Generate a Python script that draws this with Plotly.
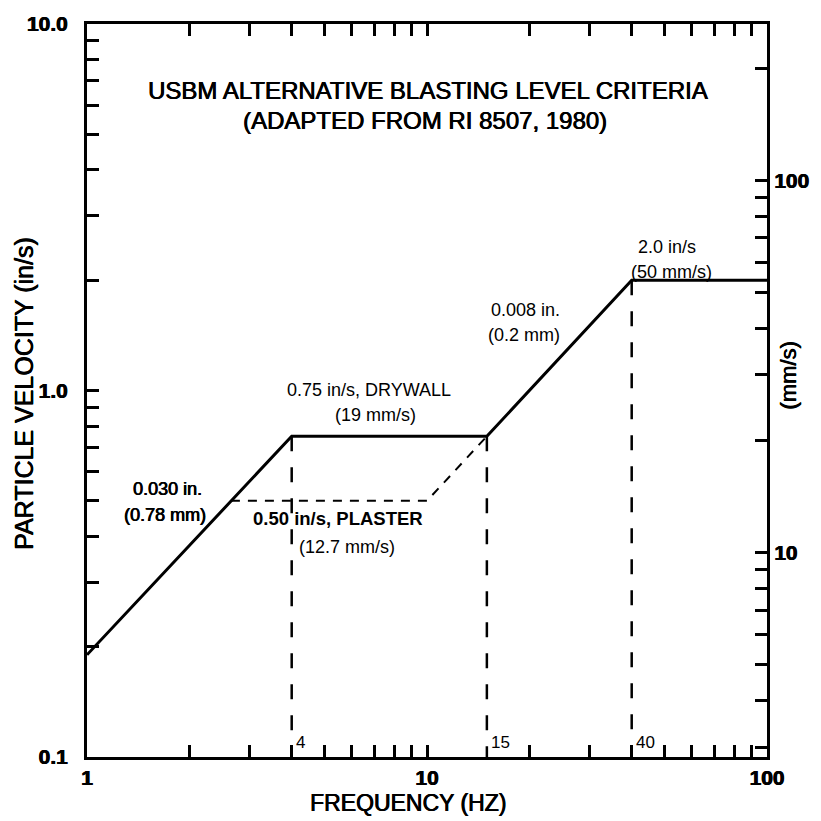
import numpy as np
import plotly.graph_objects as go

# USBM alternative blasting criteria: frequency (Hz) vs. peak particle velocity (in/s)
limit_freq = [1, 4, 15, 40, 100]
limit_vel = [0.19, 0.75, 0.75, 2.0, 2.0]

# Plaster criterion: 0.50 in/s plateau rejoining the 0.008 in. displacement line
plaster_freq = [2.65, 10, 15]
plaster_vel = [0.50, 0.50, 0.75]

# Break-point frequencies with vertical guide lines down to the axis floor
knee_freq = [4, 15, 40]
knee_vel = [0.75, 0.75, 2.0]
knee_text = ["4", "15", "40"]
floor_vel = 0.1

# Tick positions and labels (log decades with unlabeled minor ticks)
x_ticks = [1, 2, 3, 4, 5, 6, 7, 8, 9, 10, 20, 30, 40, 50, 60, 70, 80, 90, 100]
x_labels = ["1"] + [""] * 8 + ["10"] + [""] * 8 + ["100"]
y_ticks = [0.1, 0.2, 0.3, 0.4, 0.5, 0.6, 0.7, 0.8, 0.9,
           1, 2, 3, 4, 5, 6, 7, 8, 9, 10]
y_labels = ["0.1"] + [""] * 8 + ["1.0"] + [""] * 8 + ["10.0"]
mm_ticks = [3, 4, 5, 6, 7, 8, 9, 10, 20, 30, 40, 50, 60, 70, 80, 90, 100, 200]
mm_labels = [""] * 7 + ["10"] + [""] * 8 + ["100", ""]
mm_range = [2.82, 263]

FONT = "Liberation Sans, Arial, Helvetica, sans-serif"
INK = "black"
HEAVY = "0.5px 0 0 #000, -0.3px 0 0 #000"


def font(size, bold=False, heavy=True):
    f = dict(family=FONT, size=size, color=INK,
             weight="bold" if bold else "normal")
    if heavy:
        f["shadow"] = HEAVY
    return f


fig = go.Figure()

# vertical dashed guides at the break frequencies
vx, vy = [], []
for f, v in zip(knee_freq, knee_vel):
    vx += [f, f, None]
    vy += [v, floor_vel, None]
fig.add_trace(go.Scatter(x=vx, y=vy, mode="lines",
                         line=dict(color=INK, width=2.5, dash="15px,16px"),
                         hoverinfo="skip"))

# plaster criterion (short dashes)
fig.add_trace(go.Scatter(x=plaster_freq, y=plaster_vel, mode="lines",
                         line=dict(color=INK, width=2, dash="9px,8px"),
                         hoverinfo="skip"))

# main limit curve
fig.add_trace(go.Scatter(x=limit_freq, y=limit_vel, mode="lines",
                         line=dict(color=INK, width=3),
                         hoverinfo="skip"))

# carrier for the mm/s scale on the right
fig.add_trace(go.Scatter(x=[1], y=[10], yaxis="y2", mode="lines",
                         opacity=0, hoverinfo="skip"))

annotations = []


def label(text, f, v, size=18, bold=False, heavy=False, **kw):
    annotations.append(dict(text=text, x=np.log10(f), y=np.log10(v),
                            xref="x", yref="y", showarrow=False,
                            font=font(size, bold, heavy), **kw))


def paper_text(text, x, y, size, angle=0):
    annotations.append(dict(text=text, x=x, y=y, xref="paper", yref="paper",
                            xanchor="center", yanchor="middle",
                            textangle=angle, showarrow=False,
                            font=font(size)))


label("0.75 in/s, DRYWALL", 6.77, 1.006)
label("(19 mm/s)", 7.05, 0.855)
label("0.030 in.", 1.72, 0.539, heavy=True)
label("(0.78 mm)", 1.70, 0.458, heavy=True)
label("0.50 in/s, PLASTER", 5.46, 0.447, size=18.5, bold=True)
label("(12.7 mm/s)", 5.80, 0.375)
label("0.008 in.", 19.5, 1.658)
label("(0.2 mm)", 19.3, 1.418)
label("2.0 in/s", 50.7, 2.47)
label("(50 mm/s)", 52.4, 2.11)

for f, t in zip(knee_freq, knee_text):
    label(t, f, floor_vel, size=17, xanchor="left", yanchor="bottom",
          xshift=2, yshift=3)

# title block
paper_text("USBM ALTERNATIVE BLASTING LEVEL CRITERIA", 0.501, 0.909, 24)
paper_text("(ADAPTED FROM RI 8507, 1980)", 0.497, 0.869, 24)

# axis titles
paper_text("PARTICLE VELOCITY (in/s)", -0.092, 0.496, 25, angle=-90)
paper_text("FREQUENCY (HZ)", 0.472, -0.0625, 23)
paper_text("(mm/s)", 1.032, 0.52, 22, angle=-90)

axis_common = dict(type="log", showgrid=False, zeroline=False,
                   showline=True, linewidth=3, linecolor=INK,
                   ticks="inside", ticklen=12, tickwidth=2.5, tickcolor=INK,
                   tickfont=font(21, bold=True))

fig.update_layout(
    width=821, height=821,
    margin=dict(l=87, r=50, t=19, b=64),
    paper_bgcolor="white", plot_bgcolor="white",
    showlegend=False,
    annotations=annotations,
    xaxis=dict(axis_common, range=[0, 2], tickmode="array",
               tickvals=x_ticks, ticktext=x_labels, mirror="ticks"),
    yaxis=dict(axis_common, range=[-1, 1], tickmode="array",
               tickvals=y_ticks, ticktext=y_labels, ticklabelstandoff=12),
    yaxis2=dict(axis_common, overlaying="y", side="right",
                range=[np.log10(mm_range[0]), np.log10(mm_range[1])],
                tickmode="array", tickvals=mm_ticks, ticktext=mm_labels),
)

fig.write_html("out.html")
